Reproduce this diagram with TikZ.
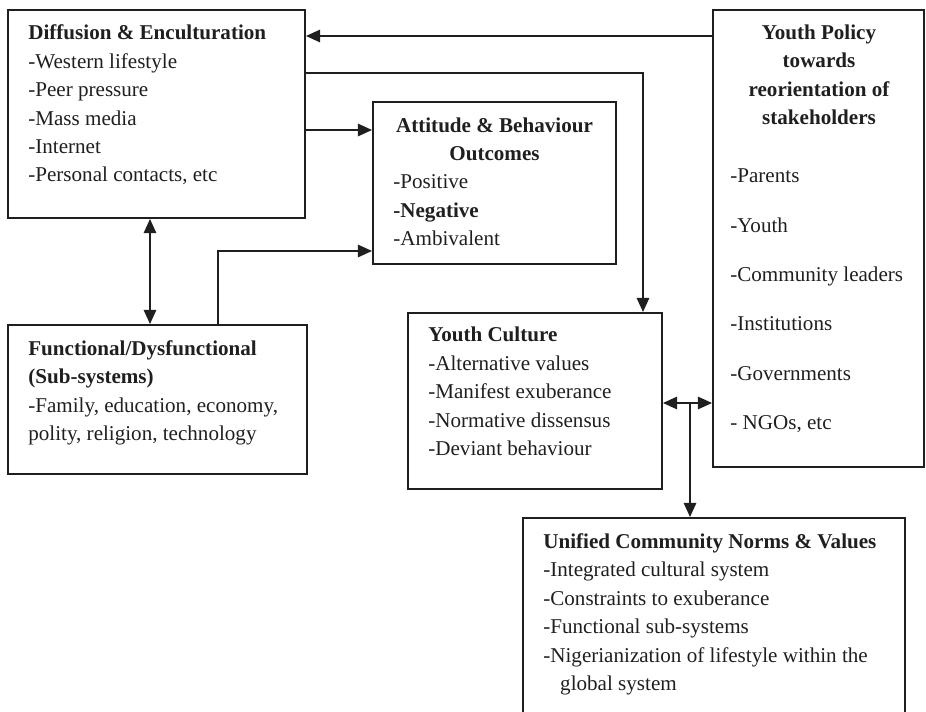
\documentclass[tikz,border=0pt]{standalone}
\usepackage{fontspec}
\setmainfont{Liberation Serif}
\usepackage{tikz}
\usetikzlibrary{arrows.meta, calc, fit, positioning}

\tikzset{
  box/.style={draw, line width=1.1pt, inner sep=0pt},
  txt/.style={inner sep=0pt, anchor=base west, align=left,
              font=\fontsize{12}{16.2}\selectfont},
  ttl/.style={inner sep=0pt, anchor=base, align=center,
              font=\fontsize{12}{16.2}\selectfont\bfseries},
  arr/.style={line width=1.1pt, -{Triangle[length=8pt, width=7pt]}},
  dblarr/.style={line width=1.1pt, {Triangle[length=8pt, width=7pt]}-{Triangle[length=8pt, width=7pt]}}
}

\begin{document}
\begin{tikzpicture}[x=0.02cm, y=-0.02cm, color={black!88}]
        \useasboundingbox (0,0) rectangle (926,712);
        \clip (0,0) rectangle (926,712);

        \node[box, fit={(8,10) (305,218)}] (diff) {};
        \node[box, fit={(373,102) (616,264)}] (att) {};
        \node[box, fit={(8,325) (307,474)}] (func) {};
        \node[box, fit={(408,313) (662,489)}] (yc) {};
        \node[box, fit={(523,518) (905,730)}] (uni) {};
        \node[box, fit={(713,10) (924,467)}] (pol) {};

        % text nodes sit on the baseline of their last line
        \node[txt] (difftxt) at (28,182) {\textbf{Diffusion \& Enculturation}\\-Western lifestyle\\-Peer pressure\\-Mass media\\-Internet\\-Personal contacts, etc};

        \node[ttl] (atttitle) at (494.5,160.5) {Attitude \& Behaviour\\Outcomes};
        \node[txt] (atttxt) at (393,245.5) {-Positive\\\textbf{-Negative}\\-Ambivalent};

        \node[txt] (functxt) at (28,440.5) {\textbf{Functional/Dysfunctional}\\\textbf{(Sub-systems)}\\-Family, education, economy,\\polity, religion, technology};

        \node[txt] (yctxt) at (428,455.5) {\textbf{Youth Culture}\\-Alternative values\\-Manifest exuberance\\-Normative dissensus\\-Deviant behaviour};

        \node[txt] (unitxt) at (543,690.5) {\textbf{Unified Community Norms \& Values}\\-Integrated cultural system\\-Constraints to exuberance\\-Functional sub-systems\\-Nigerianization of lifestyle within the\\\hspace{0.8em}global system};

        \node[ttl] (poltitle) at (819,124.5) {Youth Policy\\towards\\reorientation of\\stakeholders};
        \node[txt] (poltxt) at (730,429.5) {-Parents\\[11.9pt]-Youth\\[11.9pt]-Community leaders\\[11.9pt]-Institutions\\[11.9pt]-Governments\\[11.9pt]- NGOs, etc};

        \coordinate (junc) at (690,403);

        \draw[arr] (pol.west |- 0,36) -- (diff.east |- 0,36);
        \draw[arr] (diff.east |- 0,73) -| (yc.north -| 643,0);
        \draw[arr] (diff.east |- 0,130) -- (att.west |- 0,130);
        \draw[dblarr] (diff.south -| 150,0) -- (func.north -| 150,0);
        \draw[arr] (func.north -| 218,0) |- (att.west |- 0,251);
        \draw[dblarr] (yc.east |- junc) -- (pol.west |- junc);
        \draw[arr] (junc) -- (uni.north -| junc);
    \end{tikzpicture}
\end{document}
